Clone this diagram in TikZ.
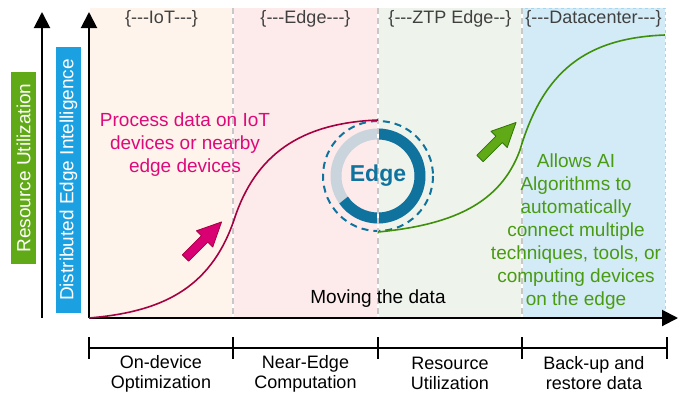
\documentclass[tikz,border=0pt]{standalone}
\usepackage{fontspec}
\setmainfont{Liberation Sans}[Ligatures=TeXOff]
\usetikzlibrary{arrows.meta}

\definecolor{iotbg}{HTML}{FEF4EB}
\definecolor{edgebg}{HTML}{FDEBEC}
\definecolor{ztpbg}{HTML}{EEF4EC}
\definecolor{dcbg}{HTML}{D3EBF7}
\definecolor{dcline}{HTML}{A6D5EE}
\definecolor{sepgray}{HTML}{C8C8C8}
\definecolor{titlegray}{HTML}{404040}
\definecolor{curvered}{HTML}{A50040}
\definecolor{pinktext}{HTML}{DE0A7A}
\definecolor{pinkfill}{HTML}{D80073}
\definecolor{pinkedge}{HTML}{A50040}
\definecolor{curvegreen}{HTML}{3F8F0A}
\definecolor{greentext}{HTML}{4A9A12}
\definecolor{greenfill}{HTML}{60A917}
\definecolor{greenedge}{HTML}{2D7600}
\definecolor{intelbox}{HTML}{1BA1E2}
\definecolor{edgeblue}{HTML}{10739E}
\definecolor{ringgray}{HTML}{CAD4DD}

\begin{document}
\begin{tikzpicture}[x=1pt, y=-1pt, line join=round,
    every node/.style={inner sep=0pt, align=center, font=\fontsize{19}{23}\selectfont},
    title/.style={text=titlegray, font=\fontsize{18}{22}\selectfont},
    phase/.style={font=\fontsize{18}{20}\selectfont},
    sidebox/.style={rotate=90, text=white, minimum height=25, minimum width=#1},
    axis/.style={line width=2pt, -{Triangle[length=16pt, width=16pt]}},
    sep/.style={draw=sepgray, line width=1.5pt, dash pattern=on 6pt off 4pt}]
\useasboundingbox (0,0) rectangle (683,397);
% phases in the background
\foreach \xa/\xb/\c/\t [count=\i] in {90/233/iotbg/{\{---IoT---\}}, 233/378/edgebg/{\{---Edge---\}},
        378/522/ztpbg/{\{---ZTP Edge--\}}, 522/665/dcbg/{\{---Datacenter---\}}} {
    \fill[\c] (\xa,8) rectangle (\xb,318);
    \node[title] (T\i) at ({(\xa+\xb)/2},19) {\t};
}
\draw[dcline, dashed] (522,8) rectangle (665,318);
% edge ring
\coordinate (C) at (378,176);
\draw[ringgray, line width=11pt] (C) circle (42);
\draw[edgeblue, line width=11pt] (C) ++(-90:42) arc[start angle=-90, end angle=145, radius=42];
\draw[edgeblue, line width=2pt, dash pattern=on 7pt off 5pt] (C) circle (55);
\foreach \x in {233,378,522} {
    \draw[white, line width=1.5pt] (\x,8) -- (\x,318);
    \draw[sep] (\x,8) -- (\x,318);
}
\node[text=edgeblue, font=\fontsize{23}{28}\selectfont\bfseries] (E) at (C) {Edge};
% axes
\coordinate (O) at (89,318);
\coordinate (Y) at (89,12);
\coordinate (X) at (678,318);
\coordinate (L0) at (42,318);
\coordinate (L1) at (42,12);
\draw[axis] (O) -- (Y);
\draw[axis] (L0) -- (L1);
\draw[axis] (O) -- (X);
\node[sidebox=192, fill=greenfill] (U) at (23.5,168) {Resource Utilization};
\node[sidebox=266, fill=intelbox] (I) at (68.5,180) {Distributed Edge Intelligence};
% curves
\draw[curvered, line width=1.6pt] (O) .. controls (160,312) and (210,290) .. (234,220)
    .. controls (255,155) and (300,123) .. (378,120);
\draw[curvegreen, line width=1.6pt] (378,232) .. controls (450,225) and (500,205) .. (520,150)
    .. controls (543,72) and (585,38) .. (665,35);
\foreach \px/\py/\f/\d in {185.5/258/pinkfill/pinkedge, 480/158.5/greenfill/greenedge} {
    \begin{scope}[shift={(\px,\py)}, rotate=45]
        \filldraw[fill=\f, draw=\d, line width=0.8pt] (0,-4.5) -- (27,-4.5) -- (27,-11.5) -- (51,0)
            -- (27,11.5) -- (27,4.5) -- (0,4.5) -- cycle;
    \end{scope}
}
% texts
\node[text=pinktext] (P) at (185,145) {Process data on IoT\\devices or nearby\\edge devices};
\node[text=greentext] (A) at (576,231.5) {Allows AI\\Algorithms to\\automatically\\connect multiple\\techniques, tools, or\\computing devices\\on the edge};
\node (M) at (378,299) {Moving the data};
% phase scale
\foreach \x [count=\i from 0] in {89,233,378,522,667} {
    \coordinate (B\i) at (\x,348);
    \draw[line width=2pt] (\x,337) -- (\x,359);
}
\draw[line width=2pt] (B0) -- (B4);
\node[phase] (S1) at (161,373.5) {On-device\\Optimization};
\node[phase] (S2) at (305.5,373.5) {Near-Edge\\Computation};
\node[phase] (S3) at (450,373.5) {Resource\\Utilization};
\node[phase] (S4) at (594,373.5) {Back-up and\\restore data};
\end{tikzpicture}
\end{document}
